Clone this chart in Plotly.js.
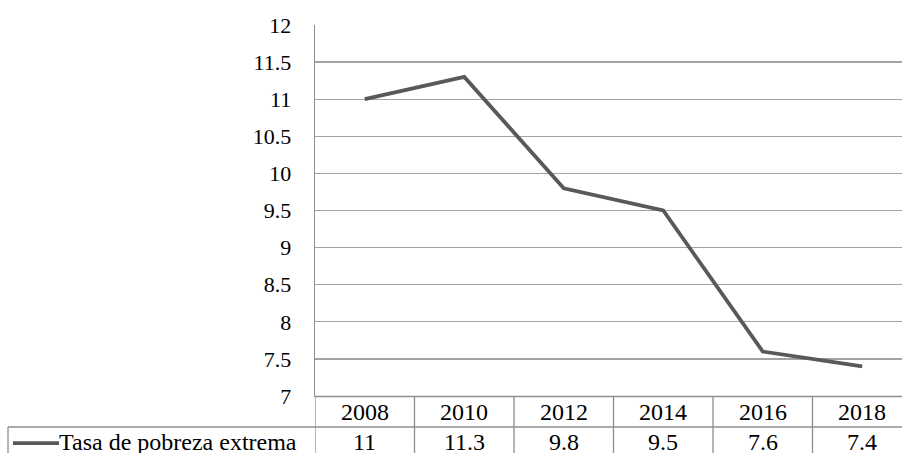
<!DOCTYPE html>
<html>
<head>
<meta charset="utf-8">
<script src="https://cdn.plot.ly/plotly-3.0.1.min.js"></script>
<style>
html,body{margin:0;padding:0;overflow:hidden;background:#fff;}
#chart{width:902px;height:453px;}
</style>
</head>
<body>
<div id="chart"></div>
<script>
const years = ["2008", "2010", "2012", "2014", "2016", "2018"];
const seriesName = "Tasa de pobreza extrema";
const values = [11, 11.3, 9.8, 9.5, 7.6, 7.4];
const yTicks = [7, 7.5, 8, 8.5, 9, 9.5, 10, 10.5, 11, 11.5, 12];

const W = 902, H = 453;
const L = 315, T = 25, B = 57;
const colW = 99.5;
const plotW = W - L, plotH = H - T - B;
const px2x = p => (p - L) / plotW;
const py2y = p => (H - B - p) / plotH;

const fontFam = "Liberation Serif";
const tableColor = "#8e8e8e";
const gridColor = "#a3a3a3";
const lineColor = "#595959";
const tickSize = 22;
const tableSize = 24;

const idx = years.map((_, i) => i);

const shapes = [];
// header row top (plot bottom)
shapes.push({type:'line', xref:'paper', yref:'paper', x0:0, x1:1, y0:py2y(396.5), y1:py2y(396.5), line:{color:tableColor, width:1.3}});
// header row bottom
shapes.push({type:'line', xref:'paper', yref:'paper', x0:px2x(8), x1:1, y0:py2y(427), y1:py2y(427), line:{color:tableColor, width:1.3}});
// vertical column lines
for (let i = 0; i < years.length; i++) {
  shapes.push({type:'line', xref:'x', yref:'paper', x0:i-0.5, x1:i-0.5, y0:0, y1:py2y(470), line:{color:tableColor, width:1.3}});
}
// left border of legend row
shapes.push({type:'line', xref:'paper', yref:'paper', x0:px2x(8), x1:px2x(8), y0:py2y(427), y1:py2y(470), line:{color:tableColor, width:1.3}});
// legend key
shapes.push({type:'line', xref:'paper', yref:'paper', x0:px2x(13), x1:px2x(59), y0:py2y(443), y1:py2y(443), line:{color:lineColor, width:3.75}});

const annotations = [];
years.forEach((yr, i) => {
  annotations.push({xref:'x', yref:'paper', x:i, y:py2y(411.5), text:yr, showarrow:false, xanchor:'center', yanchor:'middle', font:{family:fontFam, size:tableSize, color:'#000'}});
  annotations.push({xref:'x', yref:'paper', x:i, y:py2y(441.5), text:String(values[i]), showarrow:false, xanchor:'center', yanchor:'middle', borderpad:0, font:{family:fontFam, size:tableSize, color:'#000'}});
});
annotations.push({xref:'paper', yref:'paper', x:px2x(58), y:py2y(441.5), text:seriesName, showarrow:false, xanchor:'left', yanchor:'middle', borderpad:0, font:{family:fontFam, size:tableSize, color:'#000'}});

const trace = {
  x: idx, y: values, type:'scatter', mode:'lines', name: seriesName,
  line:{color:lineColor, width:3.75}, cliponaxis:false
};

const layout = {
  width: W, height: H,
  margin:{l:L, r:0, t:T, b:B, pad:0},
  paper_bgcolor:'#fff', plot_bgcolor:'#fff',
  showlegend:false,
  font:{family:fontFam, size:tickSize, color:'#000'},
  xaxis:{range:[-0.5, -0.5 + plotW / colW], showgrid:false, zeroline:false, showticklabels:false, ticks:'', showline:true, linecolor:tableColor, linewidth:1.3},
  yaxis:{range:[7,12], tickvals:yTicks, ticktext:yTicks.map(String), showgrid:true, gridcolor:gridColor, gridwidth:1.3, zeroline:false, showline:true, linecolor:tableColor, linewidth:1.3, ticks:'', ticklabelstandoff:18, tickfont:{family:fontFam, size:tickSize, color:'#000'}},
  shapes: shapes,
  annotations: annotations
};

Plotly.newPlot('chart', [trace], layout, {staticPlot:true});
</script>
</body>
</html>
